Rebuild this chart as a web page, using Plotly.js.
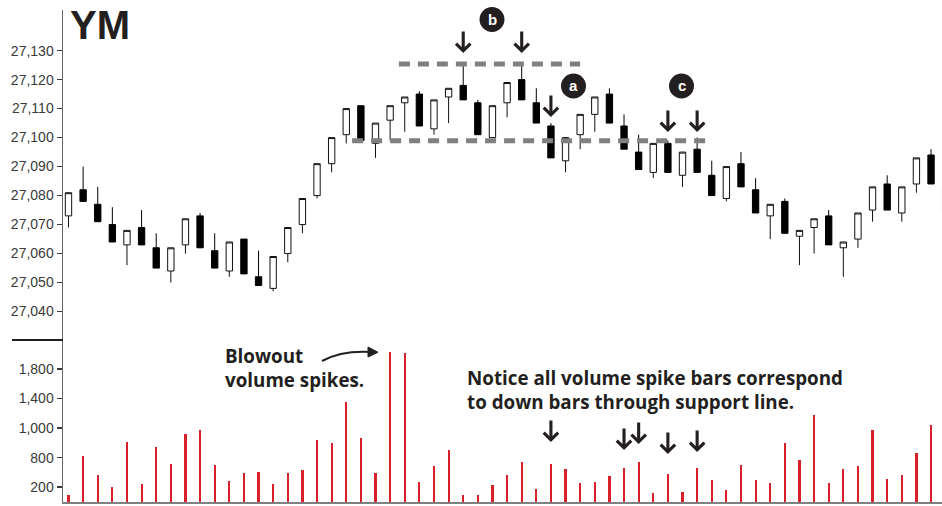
<!DOCTYPE html>
<html>
<head>
<meta charset="utf-8">
<script src="https://cdn.plot.ly/plotly-3.0.1.min.js"></script>
<style>html,body{margin:0;padding:0;background:#fff;}#chart{width:942px;height:506px;}</style>
</head>
<body>
<div id="chart"></div>
<script>
// ---- data ----
const openP  = [27073,27082,27077,27070,27063,27069,27062,27054,27063,27073,27061,27054,27065,27052,27048,27060,27070,27080,27091,27101,27111,27098,27106,27112,27115,27103,27114,27118,27112,27100,27112,27120,27112,27104,27092,27101,27108,27115,27104,27095,27088,27098,27087,27096,27087,27079,27091,27082,27073,27078,27066,27069,27073,27062,27065,27075,27084,27074,27084,27094,27083];
const highP  = [27081,27090,27083,27076,27068,27075,27067,27062,27072,27074,27067,27064,27065,27061,27059,27069,27079,27091,27100,27110,27111,27105,27111,27114,27116,27113,27117,27125,27113,27111,27119,27125,27117,27105,27100,27108,27114,27117,27108,27101,27098,27099,27095,27100,27092,27090,27095,27086,27077,27079,27068,27072,27075,27064,27074,27083,27087,27083,27093,27096,27084];
const lowP   = [27069,27078,27071,27064,27056,27063,27055,27050,27060,27062,27055,27052,27053,27049,27047,27057,27067,27079,27088,27098,27099,27093,27099,27102,27104,27101,27105,27113,27101,27100,27107,27113,27105,27093,27088,27096,27102,27105,27096,27089,27086,27088,27083,27088,27080,27078,27083,27074,27065,27067,27056,27060,27063,27052,27062,27071,27075,27071,27081,27084,27075];
const closeP = [27081,27078,27071,27064,27068,27063,27055,27062,27072,27062,27055,27064,27053,27049,27059,27069,27079,27091,27100,27110,27099,27105,27111,27114,27104,27113,27117,27113,27101,27111,27119,27113,27105,27093,27100,27108,27114,27105,27096,27089,27098,27088,27095,27088,27080,27090,27083,27074,27077,27067,27068,27072,27063,27064,27074,27083,27075,27083,27093,27084,27075];
const volume = [90,625,367,200,806,240,738,513,925,970,507,290,390,404,245,394,440,834,798,1350,866,394,2036,2022,276,490,707,95,95,235,367,548,177,513,449,262,276,354,462,548,118,377,132,462,299,163,499,299,254,793,575,1174,262,449,490,979,309,363,657,1043];
const priceTicks = [27040,27050,27060,27070,27080,27090,27100,27110,27120,27130];
const priceTickText = ['27,040','27,050','27,060','27,070','27,080','27,090','27,100','27,110','27,120','27,130'];
const volTickVals = [200,600,1000,1400,1800];
const volTickText = ['200','800','1,000','1,400','1,800'];
const resistance = 27125.4, support = 27098.9;
const priceArrowsX = [27,31,33,41,43];
const volArrowsX = [33,38,39,41,43];

const idx = openP.map((_, i) => i);
const vidx = volume.map((_, i) => i);

// pixel -> paper helpers (plot area: x 63..942, y 10..502)
const L = 63, R = 942, T = 10, B = 502;
const px = X => (X - L) / (R - L);
const py = Y => (B - Y) / (B - T);
const split = py(340);

const traces = [
  {
    type: 'candlestick', x: idx, open: openP, high: highP, low: lowP, close: closeP,
    xaxis: 'x', yaxis: 'y', hoverinfo: 'skip', whiskerwidth: 0,
    increasing: {line: {color: '#111', width: 1}, fillcolor: '#ffffff'},
    decreasing: {line: {color: '#000', width: 1}, fillcolor: '#000000'}
  },
  {
    type: 'bar', x: vidx, y: volume, xaxis: 'x', yaxis: 'y2', width: 0.15,
    marker: {color: '#d8202a', line: {width: 0}}, hoverinfo: 'skip'
  }
];

const annotations = [];
const textFont = {family: 'Open Sans, sans-serif', size: 18.8, color: '#231f20'};
annotations.push({xref: 'paper', yref: 'paper', x: px(68), y: py(25), xanchor: 'left', yanchor: 'middle',
  text: '<b>YM</b>', showarrow: false, font: {family: 'Liberation Sans, Arial, sans-serif', size: 40, color: '#231f20'}});
annotations.push({xref: 'paper', yref: 'paper', x: px(223), y: py(368), xanchor: 'left', yanchor: 'middle', align: 'left',
  text: '<b>Blowout<br>volume spikes.</b>', showarrow: false, font: textFont});
annotations.push({xref: 'paper', yref: 'paper', x: px(465), y: py(390), xanchor: 'left', yanchor: 'middle', align: 'left',
  text: '<b>Notice all volume spike bars correspond<br>to down bars through support line.</b>', showarrow: false, font: textFont});

// price arrows
const priceTipY = {27: 53, 31: 53, 33: 117, 41: 132, 43: 132};
priceArrowsX.forEach(i => {
  annotations.push({xref: 'x', yref: 'paper', x: i, y: py(priceTipY[i]), ax: 0, ay: -23, text: '', showarrow: true,
    arrowhead: 4, arrowsize: 0.9, arrowwidth: 3.1, arrowcolor: '#231f20'});
});
const volTipY = {33: 442, 38: 450, 39: 444, 41: 454, 43: 452};
volArrowsX.forEach(i => {
  annotations.push({xref: 'x', yref: 'paper', x: i, y: py(volTipY[i]), ax: 0, ay: -23, text: '', showarrow: true,
    arrowhead: 4, arrowsize: 0.9, arrowwidth: 3.1, arrowcolor: '#231f20'});
});

// circle labels
const circles = [{t: 'b', X: 492, Y: 19.5}, {t: 'a', X: 573.5, Y: 86}, {t: 'c', X: 681.5, Y: 86}];
circles.forEach(c => {
  annotations.push({xref: 'paper', yref: 'paper', x: px(c.X), y: py(c.Y), xanchor: 'center', yanchor: 'middle',
    text: '<b>' + c.t + '</b>', showarrow: false, font: {family: 'Liberation Sans, Arial, sans-serif', size: 15, color: '#fff'}});
});

const shapes = [];
circles.forEach(c => {
  shapes.push({type: 'circle', xref: 'paper', yref: 'paper', x0: px(c.X - 12.5), x1: px(c.X + 12.5), y0: py(c.Y + 12.5), y1: py(c.Y - 12.5),
    fillcolor: '#231f20', line: {width: 0}});
});
// dashed resistance / support
shapes.push({type: 'line', xref: 'x', yref: 'y', x0: 22.6, x1: 35.0, y0: resistance, y1: resistance,
  line: {color: '#808080', width: 5, dash: '11px,8px'}});
shapes.push({type: 'line', xref: 'x', yref: 'y', x0: 19.4, x1: 44.0, y0: support, y1: support,
  line: {color: '#808080', width: 5, dash: '11px,8px'}});
// separator at left
shapes.push({type: 'line', xref: 'paper', yref: 'paper', x0: px(12), x1: px(63), y0: split, y1: split,
  line: {color: '#231f20', width: 2}});
// curved arrow
shapes.push({type: 'path', xref: 'paper', yref: 'paper',
  path: `M ${px(322)} ${py(361)} Q ${px(342)} ${py(350)} ${px(372)} ${py(352)}`,
  line: {color: '#231f20', width: 2}});
shapes.push({type: 'path', xref: 'paper', yref: 'paper',
  path: `M ${px(368)} ${py(347)} L ${px(378)} ${py(352.3)} L ${px(368)} ${py(357)} Z`,
  fillcolor: '#231f20', line: {color: '#231f20', width: 1}});

const tickFont = {family: 'Liberation Sans, Arial, sans-serif', size: 14, color: '#3a3a3a'};
const layout = {
  width: 942, height: 506,
  margin: {l: L, r: 942 - R, t: T, b: 506 - B, pad: 0},
  paper_bgcolor: '#fff', plot_bgcolor: '#fff',
  showlegend: false,
  bargap: 0, boxgap: 0.38,
  xaxis: {range: [-0.376, 59.75], anchor: 'y2', showgrid: false, zeroline: false, showticklabels: false, ticks: '',
    showline: true, linecolor: '#808080', linewidth: 2, rangeslider: {visible: false}, fixedrange: true},
  yaxis: {domain: [split, 1], range: [27030.2, 27144], tickvals: priceTicks, ticktext: priceTickText,
    ticks: 'outside', ticklen: 5, tickwidth: 1.5, tickcolor: '#3a3a3a', tickfont: tickFont,
    showline: true, linecolor: '#666', linewidth: 1.5, showgrid: false, zeroline: false, anchor: 'x'},
  yaxis2: {domain: [0, split], range: [0, 2193], tickvals: volTickVals, ticktext: volTickText,
    ticks: 'outside', ticklen: 5, tickwidth: 1.5, tickcolor: '#3a3a3a', tickfont: tickFont,
    showline: true, linecolor: '#666', linewidth: 1.5, showgrid: false, zeroline: false, anchor: 'x'},
  annotations: annotations,
  shapes: shapes
};

Plotly.newPlot('chart', traces, layout, {staticPlot: true, displayModeBar: false});
</script>
</body>
</html>
